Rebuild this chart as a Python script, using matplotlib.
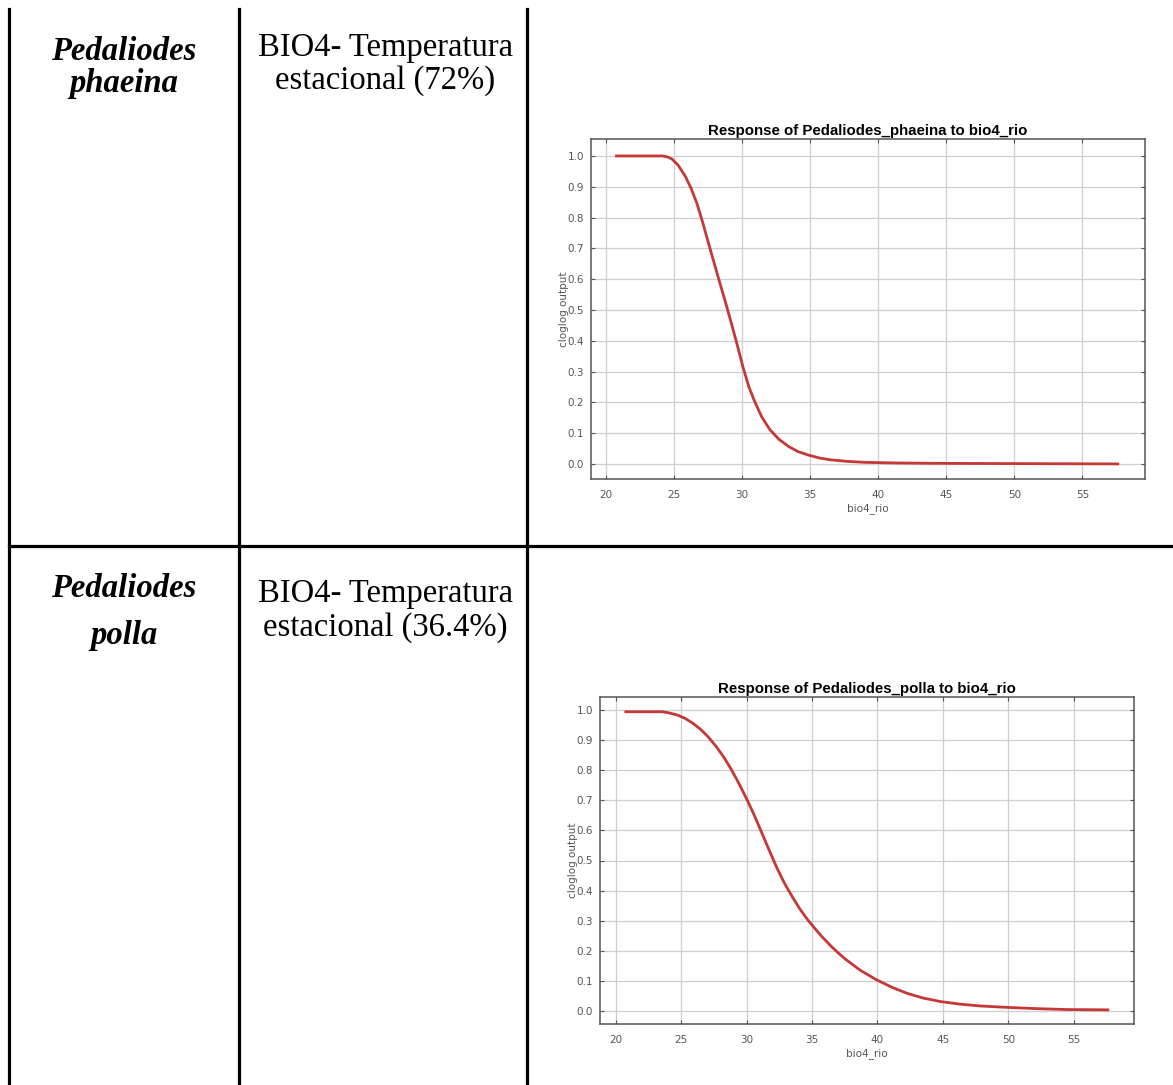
import matplotlib.pyplot as plt
from matplotlib.lines import Line2D

W, H = 1173, 1085

# response curves (bio4_rio vs cloglog output)
x_phaeina = [20.77, 24.15, 24.5, 24.85, 25.3, 25.84, 26.25, 26.68, 27.1, 27.53,
             27.95, 28.37, 28.8, 29.21, 29.65, 30.06, 30.5, 30.9, 31.45, 32.03,
             32.7, 33.44, 34.1, 34.85, 35.7, 36.54, 37.8, 39.07, 41.5, 43.85,
             50.0, 57.6]
y_phaeina = [1.0, 1.0, 0.997, 0.99, 0.97, 0.933, 0.895, 0.846, 0.785, 0.717,
             0.652, 0.587, 0.522, 0.457, 0.385, 0.315, 0.25, 0.205, 0.152, 0.112,
             0.080, 0.056, 0.040, 0.029, 0.019, 0.013, 0.008, 0.005, 0.003, 0.002,
             0.001, 0.0]

x_polla = [20.77, 23.55, 24.1, 24.72, 25.3, 25.89, 26.5, 27.06, 27.65, 28.23,
           28.8, 29.4, 30.0, 30.57, 31.15, 31.73, 32.3, 32.9, 33.5, 34.07,
           34.65, 35.24, 35.8, 36.42, 37.0, 37.59, 38.7, 39.92, 41.1, 42.26,
           43.5, 44.89, 46.3, 47.81, 50.0, 52.2, 54.5, 57.6]
y_polla = [0.994, 0.994, 0.99, 0.983, 0.972, 0.956, 0.935, 0.911, 0.88, 0.845,
           0.805, 0.757, 0.705, 0.652, 0.593, 0.534, 0.477, 0.424, 0.379, 0.339,
           0.304, 0.273, 0.245, 0.217, 0.193, 0.171, 0.135, 0.104, 0.079, 0.059,
           0.043, 0.031, 0.023, 0.017, 0.012, 0.008, 0.005, 0.004]

species = ["Pedaliodes\nphaeina", "Pedaliodes\npolla"]
variables = ["BIO4- Temperatura\nestacional (72%)", "BIO4- Temperatura\nestacional (36.4%)"]
titles = ["Response of Pedaliodes_phaeina to bio4_rio",
          "Response of Pedaliodes_polla to bio4_rio"]
xticks = [20, 25, 30, 35, 40, 45, 50, 55]
yticks = [0.0, 0.1, 0.2, 0.3, 0.4, 0.5, 0.6, 0.7, 0.8, 0.9, 1.0]


def fx(px):
    return px / W


def fy(py):
    return 1 - py / H


fig = plt.figure(figsize=(W / 100, H / 100), dpi=100)
fig.patch.set_facecolor("white")

# table rules
lw = 2.3
for x in [9, 239, 527]:
    fig.add_artist(Line2D([fx(x), fx(x)], [fy(9), fy(H)], color="black", lw=lw))
fig.add_artist(Line2D([fx(9), fx(W)], [fy(546), fy(546)], color="black", lw=lw))

serif = ["Liberation Serif", "DejaVu Serif"]

# species names (bold italic) and variable text
sp_lines = [(60, 92), (597, 644)]
var_lines = [(56, 89), (602, 636)]
for i in range(2):
    genus, epithet = species[i].split("\n")
    fig.text(fx(124), fy(sp_lines[i][0]), genus, family=serif, fontsize=23.5,
             fontweight="bold", fontstyle="italic", ha="center", va="baseline")
    fig.text(fx(124), fy(sp_lines[i][1]), epithet, family=serif, fontsize=23.5,
             fontweight="bold", fontstyle="italic", ha="center", va="baseline")
    l1, l2 = variables[i].split("\n")
    fig.text(fx(385), fy(var_lines[i][0]), l1, family=serif, fontsize=23.5,
             ha="center", va="baseline")
    fig.text(fx(385), fy(var_lines[i][1]), l2, family=serif, fontsize=23.5,
             ha="center", va="baseline")

# plot boxes in pixels: left, top, right, bottom
boxes = [(591, 139, 1145, 479), (600, 697, 1134, 1024)]
curves = [(x_phaeina, y_phaeina), (x_polla, y_polla)]
xlims = [(18.9, 59.6), (18.8, 59.6)]
ylims = [(-0.049, 1.055), (-0.043, 1.043)]

for i in range(2):
    l, t, r, b = boxes[i]
    ax = fig.add_axes([fx(l), fy(b), (r - l) / W, (b - t) / H])
    xs, ys = curves[i]
    ax.plot(xs, ys, color="#c53838", lw=2.0, solid_joinstyle="round")
    ax.set_xlim(*xlims[i])
    ax.set_ylim(*ylims[i])
    ax.set_xticks(xticks)
    ax.set_yticks(yticks)
    ax.set_yticklabels([f"{v:.1f}" for v in yticks])
    ax.grid(True, color="#cfcfcf", lw=0.9)
    ax.set_axisbelow(True)
    ax.tick_params(direction="in", top=True, right=True, length=3, width=0.8,
                   color="#555555", labelsize=7.5, labelcolor="#555555")
    ax.tick_params(axis="x", pad=8)
    ax.tick_params(axis="y", pad=5)
    for s in ax.spines.values():
        s.set_color("#555555")
        s.set_linewidth(1.1)
    ax.set_title(titles[i], fontsize=10.8, fontweight="bold", family="Liberation Sans",
                 pad=3)
    ax.set_xlabel("bio4_rio", fontsize=7.5, color="#555555", labelpad=2)
    ax.set_ylabel("cloglog output", fontsize=7.5, color="#555555", labelpad=-1)

fig.savefig("out.png", dpi=100, facecolor="white")
